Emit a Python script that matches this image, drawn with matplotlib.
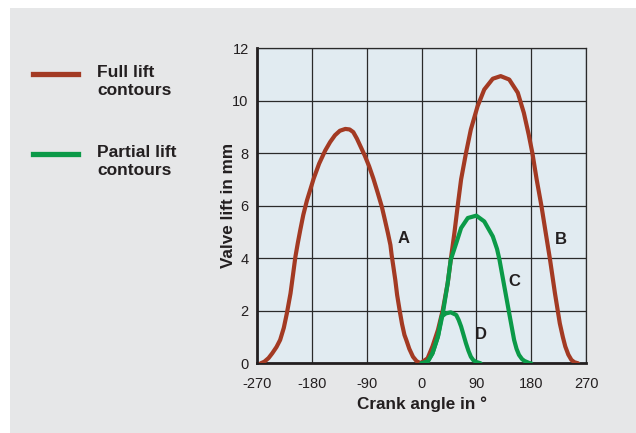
import matplotlib.pyplot as plt
from matplotlib.patches import Rectangle

plt.rcParams['font.family'] = ['Liberation Sans', 'DejaVu Sans']
plt.rcParams['axes.unicode_minus'] = False

# curve A (full lift)
a_angle = [-264, -258, -251, -245, -238, -232, -226, -221, -218, -215, -211, -207,
           -203, -199, -194, -188, -182, -177, -168, -158, -150, -142, -134, -125,
           -118, -112, -106, -100, -93, -86, -79, -72, -65, -60, -55, -51, -49,
           -46, -43, -40, -36, -32, -28, -25, -20, -14, -8, -3, 0]
a_lift = [0, 0.06, 0.2, 0.38, 0.62, 0.89, 1.35, 1.9, 2.28, 2.66, 3.35, 4.05,
          4.58, 5.07, 5.65, 6.2, 6.65, 7.03, 7.6, 8.1, 8.42, 8.68, 8.85, 8.92,
          8.9, 8.8, 8.55, 8.25, 7.9, 7.5, 7.03, 6.5, 5.95, 5.45, 4.94, 4.5, 4.12,
          3.65, 3.17, 2.6, 2.03, 1.5, 1.08, 0.89, 0.55, 0.25, 0.08, 0.02, 0]

# curve B (full lift)
b_angle = [0, 10, 18, 27, 35, 43, 48, 54, 60, 65, 73, 81, 92, 103, 117, 130,
           144, 158, 168, 176, 182, 189, 197, 204, 211, 219, 227, 232, 236,
           241, 246, 251, 257]
b_lift = [0.03, 0.19, 0.64, 1.27, 2.03, 3.05, 3.94, 4.96, 6.1, 7.0, 8.0, 8.9,
          9.78, 10.42, 10.83, 10.93, 10.8, 10.3, 9.53, 8.7, 8.0, 7.0, 5.97, 4.95,
          3.94, 2.67, 1.52, 1.0, 0.64, 0.33, 0.13, 0.04, 0]

# curve C (partial lift)
c_angle = [0, 10, 18, 27, 35, 43, 48, 57, 65, 76, 90, 103, 117, 124, 128, 136,
           144, 152, 156, 160, 165, 169, 177, 180]
c_lift = [0, 0.06, 0.38, 1.02, 1.9, 3.05, 3.94, 4.57, 5.15, 5.53, 5.62, 5.4,
          4.83, 4.35, 3.94, 2.92, 1.9, 0.89, 0.55, 0.32, 0.16, 0.09, 0.01, 0]

# curve D (partial lift)
d_angle = [0, 10, 18, 27, 33, 40, 48, 57, 61, 65, 69, 73, 77, 81, 85, 90, 97]
d_lift = [0, 0.06, 0.38, 1.02, 1.78, 1.9, 1.94, 1.84, 1.65, 1.4, 1.08, 0.76,
          0.48, 0.25, 0.12, 0.05, 0]

x_ticks = [-270, -180, -90, 0, 90, 180, 270]
y_ticks = [0, 2, 4, 6, 8, 10, 12]

red = '#a33a23'
green = '#0b9a48'
ink = '#231f20'

fig = plt.figure(figsize=(6.36, 4.33), dpi=100, facecolor='white')
fig.patches.append(Rectangle((10 / 636, 0), 1, (433 - 8) / 433, transform=fig.transFigure,
                             facecolor='#e6e7e8', edgecolor='none', zorder=-10))

ax = fig.add_axes([257 / 636, 1 - 363.3 / 433, (586 - 257) / 636, (363.3 - 48) / 433])
ax.set_facecolor('#e1ebf1')

style = dict(lw=3, solid_capstyle='round', solid_joinstyle='round')
ax.plot(a_angle, a_lift, color=red, zorder=3, **style)
ax.plot(b_angle, b_lift, color=red, zorder=3, **style)
ax.plot(c_angle, c_lift, color=green, zorder=4, **style)
ax.plot(d_angle, d_lift, color=green, zorder=4, **style)

for lbl, x, y in [('A', -29, 4.76), ('B', 229, 4.72), ('C', 152, 3.13), ('D', 97, 1.11)]:
    ax.text(x, y, lbl, fontsize=12, fontweight='bold', color=ink,
            ha='center', va='center', zorder=5)

ax.set_xlim(-270, 270)
ax.set_ylim(0, 12)
ax.set_xticks(x_ticks)
ax.set_yticks(y_ticks)
ax.grid(True, color='#2a2a2a', lw=0.9)
ax.set_axisbelow(True)
ax.tick_params(length=0, labelsize=10.5, colors=ink)
ax.tick_params(axis='x', pad=10)
ax.tick_params(axis='y', pad=6)
for s in ['top', 'right']:
    ax.spines[s].set_linewidth(0.9)
    ax.spines[s].set_color('#2a2a2a')
for s in ['left', 'bottom']:
    ax.spines[s].set_linewidth(2)
    ax.spines[s].set_color(ink)

ax.set_xlabel('Crank angle in °', fontsize=12.3, fontweight='bold', color=ink, labelpad=4)
ax.set_ylabel('Valve lift in mm', fontsize=12.3, fontweight='bold', color=ink, labelpad=-3)

# legend
fig.add_artist(plt.Line2D([33 / 636, 78 / 636], [1 - 74 / 433] * 2, color=red, lw=3.8))
fig.add_artist(plt.Line2D([33 / 636, 78 / 636], [1 - 154 / 433] * 2, color=green, lw=3.8))
fig.text(97 / 636, 1 - 81.5 / 433, 'Full lift\ncontours', fontsize=12.5, fontweight='bold',
         color=ink, va='center', linespacing=1.3)
fig.text(97 / 636, 1 - 161.5 / 433, 'Partial lift\ncontours', fontsize=12.5, fontweight='bold',
         color=ink, va='center', linespacing=1.3)

fig.savefig('out.png', dpi=100, facecolor=fig.get_facecolor())
